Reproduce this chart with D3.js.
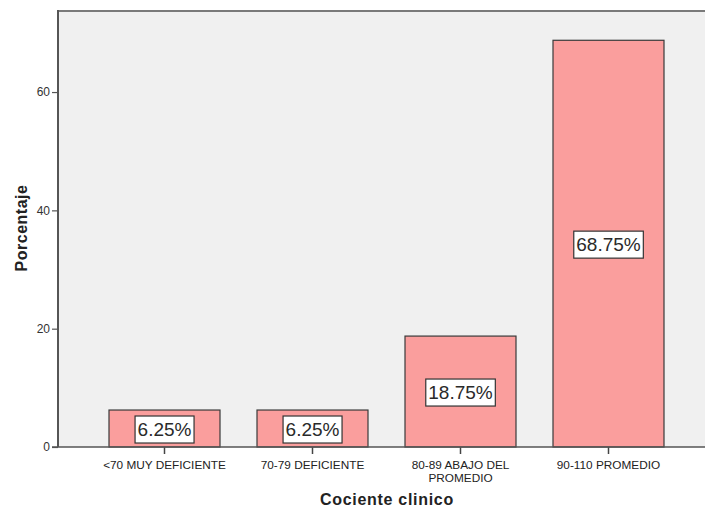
<!DOCTYPE html>
<html>
<head>
<meta charset="utf-8">
<script src="https://cdn.jsdelivr.net/npm/d3@7"></script>
<style>
  html, body { margin: 0; padding: 0; background: #ffffff; }
  svg { display: block; font-family: Arial, "Liberation Sans", sans-serif; }
</style>
</head>
<body>
<svg id="chart" width="705" height="508"></svg>
<script>
// Distribution of clinical quotient categories (percent)
const categories = ["<70 MUY DEFICIENTE", "70-79 DEFICIENTE", "80-89 ABAJO DEL PROMEDIO", "90-110 PROMEDIO"];
const categoryLines = [["<70 MUY DEFICIENTE"], ["70-79 DEFICIENTE"], ["80-89 ABAJO DEL", "PROMEDIO"], ["90-110 PROMEDIO"]];
const percentages = [6.25, 6.25, 18.75, 68.75];
const yTicks = [0, 20, 40, 60];

const svg = d3.select("#chart");
const plotLeft = 58, plotTop = 11, plotBottom = 447, plotRight = 720;

const y = d3.scaleLinear().domain([0, 73.7]).range([plotBottom, plotTop]);
const x = d3.scaleBand()
  .domain(categories)
  .range([90.5, 682.5])
  .paddingInner(0.25)
  .paddingOuter(0.125);

// plot background
svg.append("rect")
  .attr("x", plotLeft).attr("y", plotTop)
  .attr("width", plotRight - plotLeft).attr("height", plotBottom - plotTop)
  .attr("fill", "#f0f0f0");

// top frame line
svg.append("line")
  .attr("x1", plotLeft).attr("x2", plotRight)
  .attr("y1", plotTop).attr("y2", plotTop)
  .attr("stroke", "#7a7a7a").attr("stroke-width", 2);

// bars
svg.append("g").selectAll("rect")
  .data(percentages)
  .join("rect")
  .attr("x", (d, i) => x(categories[i]))
  .attr("y", d => y(d))
  .attr("width", x.bandwidth())
  .attr("height", d => y(0) - y(d))
  .attr("fill", "#fa9e9d")
  .attr("stroke", "#3a3a3a")
  .attr("stroke-width", 1.2);

// value labels in boxes
const labels = svg.append("g").selectAll("g")
  .data(percentages)
  .join("g")
  .attr("transform", (d, i) => `translate(${x(categories[i]) + x.bandwidth() / 2},${(y(d) + y(0)) / 2 + 1})`);

labels.append("text")
  .attr("text-anchor", "middle")
  .attr("dy", "0.36em")
  .attr("font-size", 19)
  .attr("fill", "#2a2a2a")
  .text(d => d.toFixed(2) + "%")
  .each(function () {
    const b = this.getBBox();
    d3.select(this.parentNode).insert("rect", "text")
      .attr("x", b.x - 2.5).attr("y", -13.5)
      .attr("width", b.width + 5).attr("height", 27)
      .attr("fill", "#ffffff")
      .attr("stroke", "#333").attr("stroke-width", 1.2);
  });

// y axis
const yAxis = svg.append("g")
  .attr("transform", `translate(${plotLeft},0)`)
  .call(d3.axisLeft(y).tickValues(yTicks).tickSize(6).tickSizeOuter(0).tickPadding(2));
yAxis.select(".domain").remove();
yAxis.selectAll(".tick line").attr("stroke", "#555").attr("stroke-width", 1.2);
yAxis.selectAll(".tick text").attr("font-size", 12).attr("fill", "#333").attr("font-family", "Arial, 'Liberation Sans', sans-serif");
svg.append("line")
  .attr("x1", plotLeft).attr("x2", plotLeft)
  .attr("y1", plotTop - 1).attr("y2", plotBottom)
  .attr("stroke", "#555").attr("stroke-width", 2);

// x axis
const xAxis = svg.append("g")
  .attr("transform", `translate(0,${plotBottom})`)
  .call(d3.axisBottom(x).tickSize(7).tickSizeOuter(0).tickFormat(""));
xAxis.select(".domain").remove();
xAxis.selectAll(".tick line").attr("stroke", "#444").attr("stroke-width", 1.5);
svg.append("line")
  .attr("x1", plotLeft - 6).attr("x2", plotRight)
  .attr("y1", plotBottom).attr("y2", plotBottom)
  .attr("stroke", "#555").attr("stroke-width", 1.6);

xAxis.selectAll(".tick").each(function (d, i) {
  const t = d3.select(this).append("text")
    .attr("text-anchor", "middle")
    .attr("font-size", 11.8)
    .attr("fill", "#222")
    .attr("font-family", "Arial, 'Liberation Sans', sans-serif");
  categoryLines[i].forEach((line, k) => {
    t.append("tspan").attr("x", 0).attr("y", 22 + k * 13).text(line);
  });
});

// axis titles
svg.append("text")
  .attr("x", 387).attr("y", 505)
  .attr("text-anchor", "middle")
  .attr("font-size", 16).attr("font-weight", "bold").attr("fill", "#222")
  .attr("letter-spacing", 0.7)
  .text("Cociente clinico");

svg.append("text")
  .attr("transform", "translate(27,228) rotate(-90)")
  .attr("text-anchor", "middle")
  .attr("font-size", 16).attr("font-weight", "bold").attr("fill", "#222")
  .attr("letter-spacing", 0.5)
  .text("Porcentaje");
</script>
</body>
</html>
